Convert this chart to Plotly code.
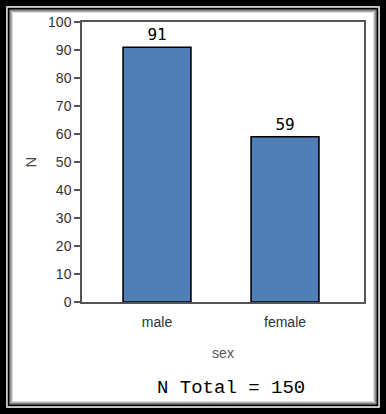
import plotly.graph_objects as go

categories = ["male", "female"]
counts = [91, 59]
y_ticks = [0, 10, 20, 30, 40, 50, 60, 70, 80, 90, 100]
total_label = "N Total = 150"

W, H = 386, 414
L, R, T, B = 82, 22, 22, 112
PW, PH = W - L - R, H - T - B


def px(x):
    return (x - L) / PW


def py(y):
    return 1 - (y - T) / PH


fig = go.Figure()
fig.add_trace(go.Bar(
    x=categories, y=counts, width=0.53,
    marker=dict(color="#4f7fb6", line=dict(color="#000000", width=1.6)),
    text=[str(v) for v in counts], textposition="outside",
    textfont=dict(family="DejaVu Sans Mono", size=16, color="#000000"),
    cliponaxis=False,
))

shapes = []


def frame(inset, color, width):
    shapes.append(dict(type="rect", xref="paper", yref="paper",
                       x0=px(inset), x1=px(W - inset), y0=py(H - inset), y1=py(inset),
                       line=dict(color=color, width=width), fillcolor="rgba(0,0,0,0)", layer="above"))


frame(3, "#000000", 6.5)
frame(7, "#d8d8d8", 1)
frame(8.7, "#000000", 2)
frame(10.3, "#808080", 1.2)
frame(11.5, "#b0b0b0", 1)
frame(12.5, "#dcdcdc", 1)

fig.update_layout(
    width=W, height=H,
    margin=dict(l=L, r=R, t=T, b=B, pad=0),
    paper_bgcolor="white", plot_bgcolor="white",
    showlegend=False,
    shapes=shapes,
    font=dict(family="Liberation Sans", size=13, color="#333333"),
    xaxis=dict(
        range=[-0.586, 1.617], showline=True, linecolor="#555555", linewidth=1.5, mirror=True,
        ticks="outside", ticklen=6, tickcolor="rgba(0,0,0,0)", showgrid=False,
        tickfont=dict(family="Liberation Sans", size=14, color="#333333"),
        title=dict(text="sex", standoff=20, font=dict(family="Liberation Sans", size=14, color="#555555")),
    ),
    yaxis=dict(
        range=[0, 100], tickvals=y_ticks, showline=True, linecolor="#555555", linewidth=1.5, mirror=True,
        ticks="outside", ticklen=6, tickcolor="#555555", tickwidth=1.5, showgrid=False, zeroline=False,
        tickfont=dict(family="Liberation Sans", size=14, color="#333333"),
        title=dict(text="N", standoff=8, font=dict(family="Liberation Sans", size=15, color="#444444")),
    ),
    annotations=[dict(
        text=total_label, xref="paper", yref="paper", x=px(231), y=py(388),
        xanchor="center", yanchor="middle", showarrow=False,
        font=dict(family="Liberation Mono", size=19, color="#000000"),
    )],
)

fig.write_html("out.html", config={"displayModeBar": False},
               post_script="document.body.style.margin='0';document.body.style.padding='0';document.body.style.overflow='hidden';")
